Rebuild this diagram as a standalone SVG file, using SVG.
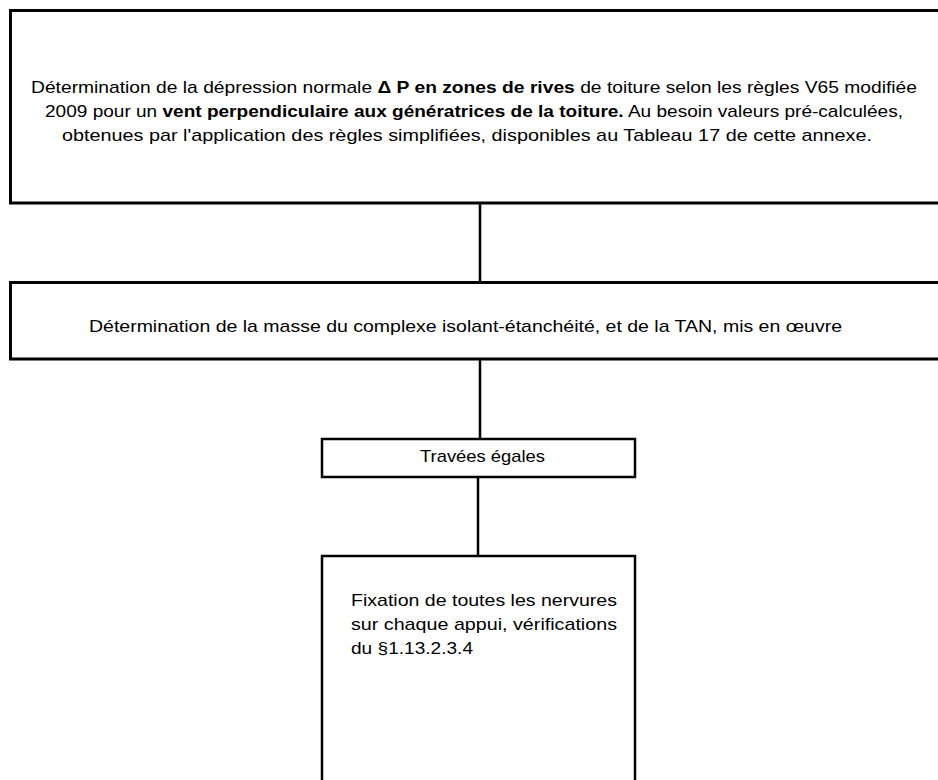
<svg xmlns="http://www.w3.org/2000/svg" width="938" height="780" viewBox="0 0 938 780">
<style>
.box{fill:#fff;stroke:#000;}
.t{font-family:"Liberation Sans",Arial,sans-serif;font-size:17px;fill:#000;}
.b{font-weight:bold;}
.conn{stroke:#000;stroke-width:2.5;fill:none;}
</style>
<rect width="938" height="780" fill="#fff"/>
<g id="connectors">
<line class="conn" x1="480" y1="204" x2="480" y2="282"/>
<line class="conn" x1="480" y1="360" x2="480" y2="439"/>
<line class="conn" x1="478" y1="477" x2="478" y2="556"/>
</g>
<g id="node1">
<rect class="box" x="10.5" y="10.5" width="940" height="192.5" stroke-width="3"/>
<text class="t" x="31" y="93" textLength="886" lengthAdjust="spacingAndGlyphs">Détermination de la dépression normale <tspan class="b">Δ P en zones de rives</tspan> de toiture selon les règles V65 modifiée</text>
<text class="t" x="45" y="117" textLength="858" lengthAdjust="spacingAndGlyphs">2009 pour un <tspan class="b">vent perpendiculaire aux génératrices de la toiture.</tspan> Au besoin valeurs pré-calculées,</text>
<text class="t" x="62" y="141" textLength="810" lengthAdjust="spacingAndGlyphs">obtenues par l'application des règles simplifiées, disponibles au Tableau 17 de cette annexe.</text>
</g>
<g id="node2">
<rect class="box" x="10.5" y="282.5" width="940" height="76.5" stroke-width="3"/>
<text class="t" x="89" y="332" textLength="753" lengthAdjust="spacingAndGlyphs">Détermination de la masse du complexe isolant-étanchéité, et de la TAN, mis en œuvre</text>
</g>
<g id="node3">
<rect class="box" x="322" y="439" width="313" height="38" stroke-width="2.5"/>
<text class="t" x="420" y="462" textLength="125" lengthAdjust="spacingAndGlyphs">Travées égales</text>
</g>
<g id="node4">
<rect class="box" x="322" y="556" width="313" height="240" stroke-width="2.5"/>
<text class="t" x="351" y="606" textLength="266" lengthAdjust="spacingAndGlyphs">Fixation de toutes les nervures</text>
<text class="t" x="351" y="630" textLength="266" lengthAdjust="spacingAndGlyphs">sur chaque appui, vérifications</text>
<text class="t" x="351" y="654" textLength="122" lengthAdjust="spacingAndGlyphs">du §1.13.2.3.4</text>
</g>
</svg>
